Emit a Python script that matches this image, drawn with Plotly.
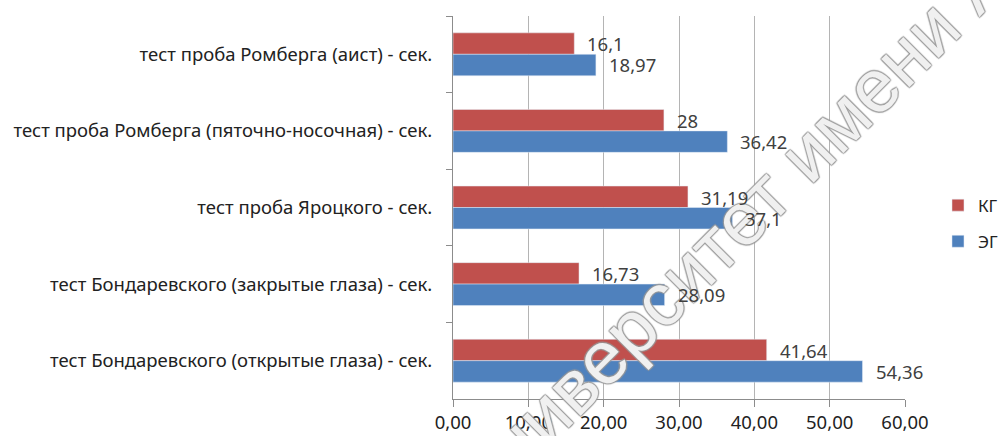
import plotly.graph_objects as go

categories = [
    "тест проба Ромберга (аист) - сек.",
    "тест проба Ромберга (пяточно-носочная) - сек.",
    "тест проба Яроцкого - сек.",
    "тест Бондаревского (закрытые глаза) - сек.",
    "тест Бондаревского (открытые глаза) - сек.",
]
kg_values = [16.1, 28, 31.19, 16.73, 41.64]
eg_values = [18.97, 36.42, 37.1, 28.09, 54.36]
kg_labels = ["16,1", "28", "31,19", "16,73", "41,64"]
eg_labels = ["18,97", "36,42", "37,1", "28,09", "54,36"]
x_ticks = [0, 10, 20, 30, 40, 50, 60]
watermark = "ниверситет имени А"

RED = "#C0504D"
BLUE = "#4F81BD"
FONT = "Noto Sans"
FS = 18.5

fig = go.Figure()
fig.add_trace(go.Bar(y=categories, x=kg_values, orientation="h", name="КГ",
                     marker=dict(color=RED), legendgroup="kg"))
fig.add_trace(go.Bar(y=categories, x=eg_values, orientation="h", name="ЭГ",
                     marker=dict(color=BLUE), legendgroup="eg"))

annotations = []
# watermark (drawn first so data labels sit above it)
annotations.append(dict(x=0.652, y=0.488, xref="paper", yref="paper",
                        text=watermark, showarrow=False, textangle=-45,
                        xanchor="center", yanchor="middle",
                        font=dict(family="Liberation Sans", size=75, color="rgba(255,255,255,0.85)",
                                  shadow="1px 1px 1px #999, -1px -1px 1px #999, 1px -1px 1px #999, -1px 1px 1px #999")))
for cat, v, lab in zip(categories, kg_values, kg_labels):
    annotations.append(dict(x=v, y=cat, xref="x", yref="y", text=lab, showarrow=False,
                            xanchor="left", yanchor="middle", xshift=11, yshift=10.5,
                            font=dict(family=FONT, size=FS, color="#404040")))
for cat, v, lab in zip(categories, eg_values, eg_labels):
    annotations.append(dict(x=v, y=cat, xref="x", yref="y", text=lab, showarrow=False,
                            xanchor="left", yanchor="middle", xshift=11, yshift=-10.5,
                            font=dict(family=FONT, size=FS, color="#404040")))

fig.update_layout(
    width=1000, height=436,
    margin=dict(l=453, r=95, t=16, b=37, pad=0, autoexpand=False),
    paper_bgcolor="white", plot_bgcolor="white",
    barmode="group", bargap=0.44, bargroupgap=0,
    separators=", ",
    font=dict(family=FONT, size=FS, color="#222222"),
    showlegend=True,
    legend=dict(x=1.073, y=0.458, xanchor="left", yanchor="middle",
                traceorder="grouped", tracegroupgap=11,
                font=dict(family=FONT, size=17, color="#222222"),
                itemwidth=30, bgcolor="rgba(0,0,0,0)"),
    annotations=annotations,
)
fig.update_xaxes(range=[0, 60], tickvals=x_ticks, tickformat=".2f",
                 showgrid=True, gridcolor="#b4b4b4", gridwidth=1,
                 showline=True, linecolor="#8c8c8c", linewidth=1,
                 ticks="outside", ticklen=7, tickcolor="#8c8c8c",
                 zeroline=False, tickfont=dict(family=FONT, size=FS, color="#222222"))
fig.update_yaxes(autorange="reversed", showline=True, linecolor="#8c8c8c", linewidth=1,
                 ticks="outside", ticklen=6, tickcolor="#8c8c8c", tickson="boundaries",
                 ticklabelstandoff=16, showgrid=False,
                 tickfont=dict(family=FONT, size=FS, color="#222222"))

fig.write_html("out.html", config={"displayModeBar": False},
               post_script="document.body.style.margin='0';document.body.style.overflow='hidden';")
